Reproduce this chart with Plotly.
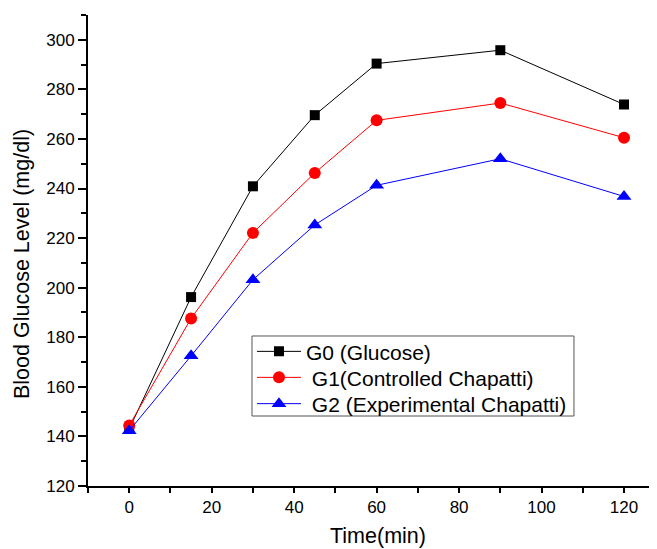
import plotly.graph_objects as go

time_min = [0, 15, 30, 45, 60, 90, 120]
g0_glucose = [143, 196.2, 240.9, 269.6, 290.4, 295.8, 273.9]
g1_controlled = [144.4, 187.6, 222.1, 246.3, 267.5, 274.5, 260.5]
g2_experimental = [142.3, 172.5, 203.2, 225.3, 241.3, 252.0, 236.8]

series_names = ["G0 (Glucose)", " G1(Controlled Chapatti)", " G2 (Experimental Chapatti)"]
x_ticks = [0, 20, 40, 60, 80, 100, 120]
y_ticks = [120, 140, 160, 180, 200, 220, 240, 260, 280, 300]
top_ticks = [4.3, 18.3, 32.3, 46.3, 60.3, 74.3, 88.3, 102.3, 116.3]

FONT = "Liberation Sans, Arial, sans-serif"

fig = go.Figure()
fig.add_trace(go.Scatter(x=time_min, y=g0_glucose, name=series_names[0], mode="lines+markers",
                         line=dict(color="black", width=1), legend="legend",
                         marker=dict(symbol="square", size=10, color="black")))
fig.add_trace(go.Scatter(x=time_min, y=g1_controlled, name=series_names[1], mode="lines+markers",
                         line=dict(color="red", width=1), legend="legend2",
                         marker=dict(symbol="circle", size=12, color="red")))
fig.add_trace(go.Scatter(x=time_min, y=g2_experimental, name=series_names[2], mode="lines+markers",
                         line=dict(color="blue", width=1), legend="legend3",
                         marker=dict(symbol="triangle-up", size=13, color="blue")))

leg_common = dict(x=0.2882, xanchor="left", yanchor="middle",
                  bgcolor="rgba(0,0,0,0)", borderwidth=0,
                  font=dict(family=FONT, size=21, color="black"), itemwidth=44)

fig.update_layout(
    width=649, height=541,
    margin=dict(l=80, r=0, t=7, b=63),
    paper_bgcolor="white", plot_bgcolor="white",
    font=dict(family=FONT, color="black", size=17),
    showlegend=True,
    legend=dict(y=0.2851, **leg_common),
    legend2=dict(y=0.2299, **leg_common),
    legend3=dict(y=0.1741, **leg_common),
    shapes=[dict(type="rect", xref="paper", yref="paper", x0=0.2882, x1=0.8541,
                 y0=0.1486, y1=0.3185, line=dict(color="#555555", width=1),
                 fillcolor="rgba(0,0,0,0)", layer="above")],
    annotations=[
        dict(text="Blood Glucose Level (mg/dl)", xref="paper", yref="paper", x=-0.1151, y=0.4703,
             xanchor="center", yanchor="middle", textangle=-90, showarrow=False,
             font=dict(family=FONT, size=21.5, color="black")),
        dict(text="Time(min)", xref="paper", yref="paper", x=0.5088, y=-0.1062,
             xanchor="center", yanchor="middle", showarrow=False,
             font=dict(family=FONT, size=21.5, color="black")),
    ],
    xaxis=dict(range=[-10, 128], tickvals=x_ticks, ticks="outside", ticklen=5, tickwidth=1.5,
               tickcolor="black", showline=True, linecolor="black", linewidth=2,
               showgrid=False, zeroline=False, automargin=False,
               minor=dict(dtick=10, tick0=0, ticks="outside", ticklen=5, tickwidth=1.5, tickcolor="black"),
               tickfont=dict(size=17)),
    yaxis=dict(range=[120, 310], tickvals=y_ticks, ticks="outside", ticklen=8, tickwidth=1.5,
               tickcolor="black", showline=True, linecolor="black", linewidth=2,
               showgrid=False, zeroline=False, automargin=False,
               minor=dict(dtick=10, tick0=0, ticks="outside", ticklen=5, tickwidth=1.5, tickcolor="black"),
               tickfont=dict(size=17)),
    xaxis2=dict(overlaying="x", side="top", range=[-10, 128], tickvals=top_ticks,
                ticks="inside", ticklen=2, tickcolor="#444444", showticklabels=False, automargin=False,
                showline=True, linecolor="#222222", linewidth=1.5, showgrid=False, zeroline=False),
)

fig.write_html("out.html")
